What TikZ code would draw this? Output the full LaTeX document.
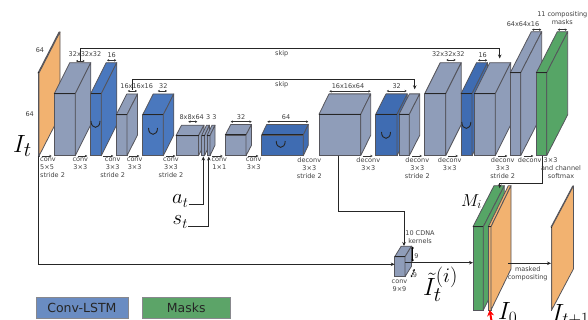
\documentclass[tikz,border=0pt]{standalone}
\usepackage[no-math]{fontspec}
\setmainfont{DejaVu Sans}
\usetikzlibrary{arrows.meta}
\definecolor{slate}{HTML}{8F9DB9}
\definecolor{lstm}{HTML}{4A78BE}
\definecolor{lstmdark}{HTML}{3F6CB2}
\definecolor{mask}{HTML}{56A566}
\definecolor{img}{HTML}{F2B270}
\definecolor{edge}{HTML}{55555C}
\definecolor{legblue}{HTML}{6A8CC2}
\definecolor{leggreen}{HTML}{5CA468}

\tikzstyle{front} = [draw=edge, line width=0.8pt, inner sep=0pt, outer sep=0pt, anchor=south west]
\tikzstyle{face} = [draw=edge, line width=0.8pt, line join=round]
\tikzstyle{wire} = [draw=black!85, line width=0.8pt]
\tikzstyle{into} = [wire, -{Stealth[length=4pt,width=3.5pt]}]
\tikzstyle{dimen} = [line width=0.5pt, black!80, {Stealth[length=2.2pt,width=2.4pt]}-{Stealth[length=2.2pt,width=2.4pt]}]
\tikzstyle{flow} = [line width=0.5pt, black!80, -{Stealth[length=2.5pt,width=2.4pt]}]
\tikzstyle{tag} = [inner sep=0pt, text=black!75, font=\fontsize{6.5}{8}\selectfont, align=center]
\tikzstyle{optag} = [tag, anchor=north]
\tikzstyle{sym} = [inner sep=0pt, font=\fontsize{30}{31}\selectfont]
\tikzstyle{legend} = [draw=edge!70, line width=0.8pt, inner sep=0pt, font=\fontsize{12.5}{13}\selectfont, text=black!85]

% name, left, bottom, width, height, depth x, depth y, colour
\newcommand{\cube}[8]{
  \node[front, fill=#8, minimum width=#4pt, minimum height=#5pt] (#1) at (#2,#3) {};
  \draw[face, fill=#8] (#1.north west) -- ++(#6,-#7) -- ++(#4,0) -- (#1.north east) -- cycle;
  \draw[face, fill=#8] (#1.south east) -- ++(#6,-#7) -- ++(0,-#5) -- (#1.north east) -- cycle;
  \draw[line width=1pt, black!85] (#1.north west) -- (#1.north east);
}
% the turning arrow on a recurrent layer
\newcommand{\turn}[2]{
  \draw[line width=0.9pt, black!85] (#1-4.5,#2-3) .. controls (#1-4.5,#2+5.5) and (#1+4.5,#2+5.5) .. (#1+4.5,#2-3);
}

\begin{document}
\begin{tikzpicture}[x=1pt, y=-1pt]
\useasboundingbox (0,0) rectangle (588,320);
\clip (0,0) rectangle (588,320);

% input frame
\cube{input}{38}{156}{1}{83}{21}{41}{img}

% encoder
\cube{encA}{54.3}{155.7}{21}{62}{15.5}{31}{slate}
\cube{lstmA}{90.7}{155.7}{10.6}{62}{15.5}{31}{lstm}
\cube{encB}{116.3}{155.7}{10.7}{41}{10.5}{20.7}{slate}
\cube{lstmB}{142.7}{155.7}{20.6}{41}{10.5}{20.7}{lstm}
\cube{encC}{176}{155.7}{22.5}{20}{5.5}{10.5}{slate}
\cube{actA}{201.5}{155.7}{3}{20}{5}{10.5}{slate}
\cube{actB}{207}{155.7}{3}{20}{5}{10.5}{slate}
\cube{encD}{225.3}{155.7}{20.7}{20.7}{5.5}{10.5}{slate}
\cube{lstmC}{261.7}{155.7}{41.6}{20.7}{5}{10.5}{lstmdark}

% decoder
\cube{decA}{319}{155.7}{41.7}{41.4}{10}{20.4}{slate}
\cube{lstmD}{375.7}{155.7}{21.3}{41.4}{10.3}{20.4}{lstmdark}
\cube{decB}{399}{155.7}{10.3}{41.4}{10.4}{20.4}{slate}
\cube{decC}{424.7}{155.7}{21}{62}{15.5}{31}{slate}
\cube{lstmE}{461}{155.7}{11}{62}{15.5}{31}{lstmdark}
\cube{decD}{474.3}{155.7}{21}{62}{15.5}{31}{slate}
\cube{decE}{510.3}{155.7}{10.4}{83}{21}{41}{slate}
\cube{maskout}{536.3}{155.7}{10.4}{83}{21}{41}{mask}

% compositing
\cube{cdna}{394.7}{276.7}{10.3}{20}{6.5}{10.5}{slate}
\cube{masks}{473}{310}{10.3}{83.3}{21}{41}{mask}
\cube{frame}{488.3}{310}{2.7}{83.3}{20}{41}{img}
\cube{output}{551}{310}{0.7}{83}{21.7}{41}{img}

\turn{95.5}{124}
\turn{153}{131}
\turn{280.7}{144}
\turn{386}{135}
\turn{466.3}{125}

% skip connections
\coordinate (skipAin) at (80.3,61);
\coordinate (skipAout) at (499.7,58.5);
\coordinate (skipBin) at (132,90);
\coordinate (skipBout) at (414.7,89.3);
\draw[into] (skipAin) -- (80.3,48.3) -- (499.7,48.3) -- (skipAout);
\draw[into] (skipBin) -- (132,79.7) -- (414.7,79.7) -- (skipBout);
\node[tag] (skipAlabel) at (281.7,53.3) {skip};
\node[tag] (skipBlabel) at (281.7,84.5) {skip};

% wires along the bottom
\coordinate (kernels) at (338.3,155.7);
\coordinate (cdnatop) at (404,246);
\coordinate (inputdrop) at (38.7,156);
\coordinate (maskdrop) at (542.3,155.7);
\coordinate (masktop) at (499.7,188.3);
\draw[into] (inputdrop) -- (38.7,264.3) -- (cdna.west |- 0,264.3);
\draw[into] (kernels) -- (338.3,211) -- (404,211) -- (cdnatop);
\draw[into] (maskdrop) -- (542.3,183) -- (499.7,183) -- (masktop);
\draw[into] (cdna.east |- 0,262.7) -- (masks.west |- 0,262.7);
\coordinate (frameout) at (508.3,263.3);
\draw[into] (frameout) -- (output.west |- 0,263.3);

% actions and states
\node[sym, font=\fontsize{20}{22}\selectfont] (action) at (180.3,201) {$a_t$};
\node[sym, font=\fontsize{20}{22}\selectfont] (state) at (180.3,222) {$s_t$};
\draw[into] (action.east |- 0,204) -- (203.3,204) -- (203.3,156.5);
\draw[into] (state.east |- 0,226) -- (208.8,226) -- (208.8,156.5);

% sizes
\foreach \name/\x/\y/\xa/\xb/\ya/\txt in {
  a/85/54/76/84.7/61/32x32x32, b/111.7/55/107/116.3/60.3/16,
  c/136.7/85.7/127.7/137/91/16x16x16, d/163.3/86/157.7/167/91/32,
  e/191.7/117.3/188.3/197.3/121.7/8x8x64, f/241/117.3/230.7/251.7/121.7/32,
  g/286/117.3/267.3/308.3/121.7/64, h/348/86/329.3/370.7/91.3/16x16x64,
  i/396.7/85.7/386.7/406.7/91/32, j/448.3/54.3/446.3/455.7/60/32x32x32,
  k/482.7/55/478/487.3/60.3/16, l/523/24/532/541.3/29.7/64x64x16}
{
  \node[tag] (size\name) at (\x,\y) {\txt};
  \draw[dimen] (\xa,\ya) -- (\xb,\ya);
}
\node[tag] (sizeact) at (211.3,117.3) {3 3};
\node[tag] (sizemask) at (562.3,18) {11 compositing\\masks};
\draw[dimen] (557.7,29.7) -- (567,29.7);
\node[tag] (sizeW) at (40,50) {64};
\node[tag] (sizeH) at (29.7,114) {64};

% operations
\foreach \name/\x/\xa/\xb/\txt in {
  b/80.3/78/87.3/{conv\\3×3}, c/112.7/103.3/113.3/{conv\\3×3\\stride 2},
  d/134.7/129.3/139.3/{conv\\3×3}, e/171/166/175.3/{conv\\3×3\\stride 2},
  f/219.3/212.3/222.7/{conv\\1×1}, g/253.7/247.7/258.3/{conv\\3×3},
  i/368.3/362.7/372.7/{deconv\\3×3}, j/417.3/412/422/{deconv\\3×3\\stride 2},
  k/449.7/448/458/{deconv\\3×3}, l/502.7/498/507.3/{deconv\\3×3\\stride 2}}
{
  \node[optag] (op\name) at (\x,157.2) {\txt};
  \draw[flow] (\xa,156) -- (\xb,156);
}
\node[tag, align=left, anchor=north west] (opa) at (40,157.2) {conv\\5×5\\stride 2};
\draw[flow] (41.7,156) -- (51.7,156);
\node[optag] (oph) at (309.3,157.2) {deconv\\3×3\\stride 2};
\node[optag] (opm) at (529.7,157.2) {deconv};
\draw[flow] (524,156) -- (533.3,156);
\node[tag, anchor=north west] (opn) at (543.5,157.2) {3×3};
\node[optag] (opo) at (561,165.2) {and channel\\softmax};
\node[optag] (opcdna) at (399.5,279.5) {conv\\9×9};
\node[tag] (cdnatag) at (420,237) {10 CDNA\\kernels};
\coordinate (nineA) at (412.7,246.5);
\coordinate (nineB) at (412.7,261.7);
\draw[dimen, black] (nineA) -- (nineB);
\node[tag] (nineh) at (416.5,256) {9};
\coordinate (nineC) at (414.5,269);
\coordinate (nineD) at (411,277.3);
\draw[dimen, black] (nineC) -- (nineD);
\node[tag] (ninew) at (415,275) {9};
\node[tag] (maskedtag) at (527.7,273.3) {masked\\compositing};

% images
\node[sym] (inputlabel) at (22.5,146) {$I_t$};
\node[sym, font=\fontsize{18}{20}\selectfont] (mlabel) at (471.5,201.5) {$M_i$};
\node[sym, font=\fontsize{30}{31}\selectfont] (warped) at (440.5,284) {$\tilde{I}_t^{(i)}$};
\node[sym, font=\fontsize{25}{26}\selectfont, anchor=west] (zero) at (498,313) {$I_0$};
\node[sym, font=\fontsize{25}{26}\selectfont, anchor=west] (next) at (551.5,315) {$I_{t+1}$};
\coordinate (zerofoot) at (491.7,322);
\draw[red, line width=2pt, -{Stealth[length=6pt,width=7pt]}] (zerofoot) -- (frame.south);

% legend
\node[legend, fill=legblue, minimum width=92pt, minimum height=21.5pt] (legLSTM) at (81.9,307.8) {Conv-LSTM};
\node[legend, fill=leggreen, minimum width=88.5pt, minimum height=21.5pt] (legMasks) at (186.3,307.8) {Masks};
\end{tikzpicture}
\end{document}
